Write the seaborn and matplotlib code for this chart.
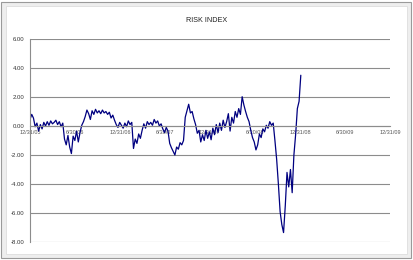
import numpy as np
import pandas as pd
import matplotlib
matplotlib.use("Agg")
import matplotlib.pyplot as plt
from matplotlib.patches import Rectangle
import seaborn as sns

# ---- data (weekly readings) ----
start_date = "2005-12-31"
risk_values = [
    0.45, 0.80, 0.55, -0.05, 0.20, -0.35, 0.10, -0.20, 0.25, 0.00,
    0.30, 0.05, 0.35, 0.15, 0.25, 0.40, 0.10, 0.30, -0.05, 0.20,
    -0.90, -1.30, -0.65, -1.45, -1.90, -0.70, -1.00, -0.35, -1.10, -0.45,
    0.05, 0.30, 0.65, 1.10, 0.85, 0.45, 1.05, 0.80, 1.15, 0.90,
    1.05, 0.85, 1.10, 0.90, 1.00, 0.80, 0.95, 0.55, 0.75, 0.40,
    0.10, -0.10, 0.25, 0.05, -0.15, 0.20, -0.05, 0.35, 0.10, 0.25,
    -1.55, -0.90, -1.20, -0.55, -0.85, -0.30, 0.15, -0.15, 0.30, 0.10,
    0.25, 0.05, 0.45, 0.20, 0.35, 0.00, 0.15, -0.20, -0.45, -0.10,
    -0.35, -1.20, -1.50, -1.75, -2.00, -1.45, -1.60, -1.15, -1.30, -1.00,
    0.60, 1.05, 1.50, 0.90, 1.00, 0.50, 0.10, -0.50, -0.30, -1.10,
    -0.60, -1.00, -0.30, -0.85, -0.40, -0.95, -0.15, -0.60, 0.10, -0.45,
    0.20, -0.30, 0.40, -0.10, 0.30, 0.85, -0.35, 0.60, 0.20, 1.00,
    0.60, 1.20, 0.80, 2.02, 1.45, 1.00, 0.60, 0.30, -0.30, -0.80,
    -1.10, -1.65, -1.30, -0.55, -0.80, -0.20, -0.40, 0.05, -0.15, 0.30,
    0.05, 0.20, -1.00, -2.30, -4.00, -5.90, -6.80, -7.35, -5.50, -3.20,
    -4.20, -3.00, -4.60, -2.00, -0.60, 1.20, 1.70, 3.50,
]
dates = pd.date_range(start_date, periods=len(risk_values), freq="7D")

tick_dates = ["2005-12-31", "2006-06-30", "2006-12-31", "2007-06-30",
              "2007-12-31", "2008-06-30", "2008-12-31", "2009-06-30",
              "2009-12-31"]
tick_labels = ["12/31/05", "6/30/06", "12/31/06", "6/30/07", "12/31/07",
               "6/30/08", "12/31/08", "6/30/09", "12/31/09"]
y_ticks = [-8, -6, -4, -2, 0, 2, 4, 6]
title = "RISK INDEX"

df = pd.DataFrame({"date": dates, "risk": risk_values})

sns.set_theme(style="white")
plt.rcParams["font.family"] = ["Liberation Sans", "DejaVu Sans"]

W, H = 414, 260
fig = plt.figure(figsize=(W / 100, H / 100), dpi=100, facecolor="white")


def px_rect(x0, y0, x1, y1, **kw):
    return Rectangle((x0 / W, 1 - y1 / H), (x1 - x0) / W, (y1 - y0) / H,
                     transform=fig.transFigure, zorder=-10, **kw)


fig.patches.append(px_rect(1.5, 1.5, 411.5, 257.5, facecolor="#eeeeee",
                           edgecolor="#9a9a9a", lw=0.8))
fig.patches.append(px_rect(6.5, 5.5, 407.5, 253.5, facecolor="white",
                           edgecolor="#dddddd", lw=0.6))

ax = fig.add_axes([30 / W, 1 - 242 / H, 360 / W, (242 - 39) / H])
ax.set_facecolor("none")
ax.set_zorder(5)

sns.lineplot(data=df, x="date", y="risk", ax=ax, color="#000080",
             linewidth=0.9, legend=False)

for s in ["top", "right"]:
    ax.spines[s].set_visible(False)
ax.spines["bottom"].set_position(("data", 0))
ax.spines["left"].set_color("#8c8c8c")
ax.spines["left"].set_linewidth(0.8)
ax.spines["bottom"].set_color("#8c8c8c")
ax.spines["bottom"].set_linewidth(0.8)

ax.set_xlim(pd.Timestamp(tick_dates[0]), pd.Timestamp(tick_dates[-1]))
ax.set_ylim(-8, 6)
ax.set_yticks(y_ticks)
ax.set_yticklabels([f"{v:.2f}" for v in y_ticks])
ax.yaxis.grid(True, color="#8c8c8c", linewidth=0.8)
ax.xaxis.grid(False)

ax.set_xticks([pd.Timestamp(d) for d in tick_dates])
ax.set_xticklabels(tick_labels)

ax.tick_params(axis="x", direction="out", length=2, width=0.6,
               color="#8c8c8c", pad=1, labelsize=4.0, labelcolor="#555555")
ax.tick_params(axis="y", direction="out", length=2, width=0.6,
               color="#8c8c8c", pad=2, labelsize=4.3, labelcolor="#333333")
ax.set_xlabel("")
ax.set_ylabel("")

fig.text(207 / W, 1 - 20 / H, title, ha="center", va="center",
         fontsize=5.2, color="#222222", zorder=6)

fig.savefig("out.png", dpi=100, facecolor="white")
